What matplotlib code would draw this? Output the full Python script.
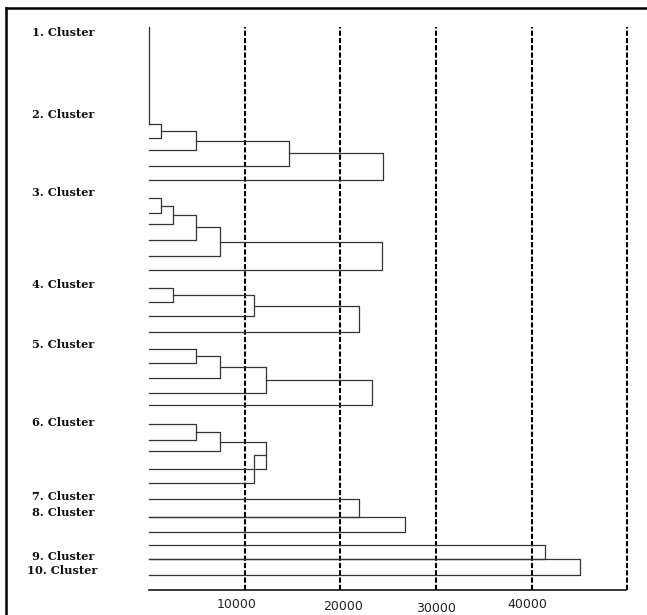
import matplotlib
matplotlib.use("Agg")
import matplotlib.pyplot as plt
from matplotlib.lines import Line2D
from matplotlib.transforms import blended_transform_factory, offset_copy

# ---------------------------------------------------------------- data
CLUSTER_LABELS = ["1. Cluster", "2. Cluster", "3. Cluster", "4. Cluster", "5. Cluster",
                  "6. Cluster", "7. Cluster", "8. Cluster", "9. Cluster", "10. Cluster"]
LABEL_ROWS = [33, 114, 193, 284, 344, 423, 497, 512, 556, 570]

# leaf rows (top -> bottom), ids 0..30
LEAF_Y = [124, 138, 150, 166, 180,
          198, 213, 224, 240, 256, 270,
          288, 302, 316, 332,
          349, 363, 378, 393, 405,
          424, 440, 451, 469, 483,
          499, 517, 532, 545, 559, 575]

# merges: (node a, node b, distance); merge k creates node id 31 + k
MERGES = [
    (0, 1, 1250), (31, 2, 4900), (32, 3, 14600), (33, 4, 24500),              # 2. cluster
    (5, 6, 1250), (35, 7, 2500), (36, 8, 4900), (37, 9, 7400), (38, 10, 24400),  # 3.
    (11, 12, 2500), (40, 13, 11000), (41, 14, 22000),                         # 4.
    (15, 16, 4900), (43, 17, 7400), (44, 18, 12200), (45, 19, 23300),         # 5.
    (20, 21, 4900), (47, 22, 7400), (48, 23, 12200), (24, 49, 11000),         # 6.
    (25, 26, 22000), (26, 27, 26800),                                         # 7. / 8.
    (28, 29, 41400), (29, 30, 45000),                                         # 9. / 10.
]
TOP_ROW = 27          # 1. cluster: a single stub running down to the first leaf
GRID = [10000, 20000, 30000, 40000, 50000]
TICKS = [10000, 20000, 30000, 40000]
TICK_NUDGE = [(-8, 604), (3, 606), (0, 609), (-4, 604)]   # (px right, row) quirks

# ---------------------------------------------------------------- figure
W, H = 647, 615
fig = plt.figure(figsize=(W / 100, H / 100), dpi=100)
fig.patch.set_facecolor("white")
X0, X1, Y0, Y1 = 149, 626, 27, 590          # plot box in pixels
PX_PER_UNIT = 95.67 / 10000
ax = fig.add_axes([X0 / W, 1 - Y1 / H, (X1 - X0) / W, (Y1 - Y0) / H])
ax.set_xlim(0, (X1 - X0) / PX_PER_UNIT)
ax.set_ylim(Y1, Y0)
for s in ("top", "left", "right"):
    ax.spines[s].set_visible(False)
ax.spines["bottom"].set_linewidth(1.1)
ax.set_xticks([]); ax.set_yticks([])

LC = "#333333"
for g in GRID:
    ax.axvline(g, color="black", lw=1.5, ls=(0, (2.5, 1)), clip_on=False, zorder=1)

# nodes: (x, y)
nodes = [(0, y) for y in LEAF_Y]
for a, b, h in MERGES:
    (xa, ya), (xb, yb) = nodes[a], nodes[b]
    ax.plot([xa, h, h, xb], [ya, ya, yb, yb], color=LC, lw=0.9, clip_on=False, zorder=2)
    nodes.append((h, (ya + yb) / 2))

ax.plot([0, 0], [TOP_ROW, LEAF_Y[0]], color=LC, lw=0.9, clip_on=False, zorder=2)

# cluster names
tr = blended_transform_factory(fig.transFigure, ax.transData)
for lab, row in zip(CLUSTER_LABELS, LABEL_ROWS):
    x = 27 if lab.startswith("10") else 32
    ax.text(x / W, row, lab, transform=tr, ha="left", va="center",
            family="DejaVu Serif", fontweight="bold", fontsize=8.2, color="#111111")

# distance labels
for t, (dx, row) in zip(TICKS, TICK_NUDGE):
    ax.text(t, row, str(t), transform=offset_copy(ax.transData, fig, x=dx, y=0, units="dots"),
            ha="center", va="center", family="DejaVu Sans", fontsize=9,
            color="#222222", clip_on=False)

# frame: thick left and top edges only
fig.add_artist(Line2D([6 / W, 6 / W], [0, 1 - 8 / H], color="black", lw=1.8))
fig.add_artist(Line2D([6 / W, 1], [1 - 8 / H, 1 - 8 / H], color="black", lw=1.8))

fig.savefig("out.png", dpi=100)
